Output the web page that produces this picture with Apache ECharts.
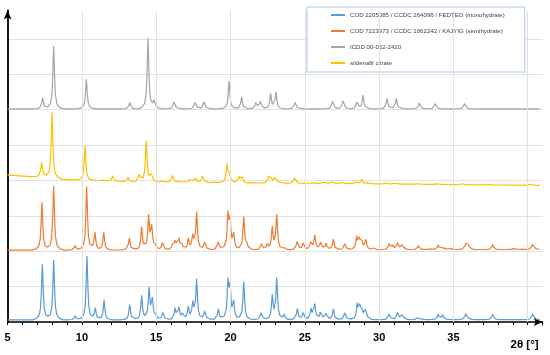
<!DOCTYPE html>
<html><head><meta charset="utf-8">
<script src="https://cdn.jsdelivr.net/npm/echarts@6/dist/echarts.min.js"></script>
<style>html,body{margin:0;padding:0;background:#fff}#c{width:550px;height:355px}</style>
</head><body><div id="c"></div>
<script>
// ---- data (2θ in degrees, intensity in stacked arbitrary units) ----
const seriesNames = [
  'COD 2205085 / CCDC 264096 / FEDTEO (monohydrate)',
  'COD 7223973 / CCDC 1062242 / KAJYIG (semihydrate)',
  'ICDD 00-052-2420',
  'sildenafil citrate'
];
const xLabelValues = [5, 10, 15, 20, 25, 30, 35];
const xGridValues = [10, 15, 20, 25, 30, 35, 40];

const blueBase = [[5, 0.06], [40.8, 0.07]];
const bluePeaks = [[7.34,1.63],[8.10,1.75],[9.54,0.18],[10.34,1.86],[10.90,0.39],[11.49,0.62],[13.22,0.49],[14.02,0.74],[14.52,0.94],[14.74,0.62],[14.94,0.20],[15.46,0.32],[16.27,0.38],[16.53,0.40],[16.78,0.25],[17.16,0.41],[17.46,0.51],[17.72,1.19],[18.28,0.36],[19.18,0.37],[19.83,1.09],[19.97,0.90],[20.21,0.53],[20.89,1.14],[22.07,0.31],[22.81,0.72],[23.11,1.22],[23.60,0.20],[24.50,0.38],[24.90,0.30],[25.42,0.36],[25.67,0.49],[26.07,0.31],[26.43,0.27],[26.92,0.36],[27.70,0.31],[28.53,0.48],[28.70,0.39],[28.83,0.36],[29.10,0.38],[30.69,0.26],[31.25,0.31],[31.56,0.22],[32.64,0.17],[33.98,0.22],[34.28,0.20],[35.85,0.28],[37.64,0.22],[40.34,0.26]];

const orangeBase = [[5, 2.03], [40.8, 2.05]];
const orangePeaks = [[7.31,3.38],[8.10,3.84],[9.54,2.16],[10.32,3.82],[10.88,2.52],[11.47,2.53],[13.19,2.37],[14.02,2.68],[14.49,2.97],[14.70,2.66],[14.92,2.15],[15.44,2.29],[16.11,2.18],[16.29,2.32],[16.53,2.34],[16.72,2.20],[17.16,2.34],[17.46,2.41],[17.72,3.09],[18.28,2.30],[19.18,2.32],[19.83,2.99],[19.97,2.82],[20.21,2.46],[20.89,2.96],[21.09,2.20],[22.10,2.25],[22.48,2.18],[22.81,2.65],[23.11,3.01],[23.60,2.13],[24.50,2.32],[24.90,2.27],[25.42,2.29],[25.67,2.44],[26.07,2.29],[26.43,2.22],[26.92,2.34],[27.70,2.26],[28.49,2.39],[28.67,2.32],[28.83,2.27],[29.10,2.32],[29.61,2.10],[30.69,2.24],[30.91,2.17],[31.25,2.27],[31.56,2.20],[32.64,2.16],[33.43,2.08],[33.98,2.17],[34.28,2.14],[34.77,2.10],[35.85,2.24],[36.00,2.19],[37.64,2.19],[39.14,2.10],[40.34,2.24]];

const greyBase = [[5, 6.02], [40.8, 6.02]];
const greyPeaks = [[7.36,6.34],[8.10,7.80],[10.30,6.86],[13.22,6.20],[14.45,8.02],[14.87,6.27],[16.22,6.27],[17.63,6.25],[18.22,6.27],[19.90,6.81],[20.75,6.35],[21.72,6.23],[22.03,6.27],[22.70,6.44],[23.06,6.49],[24.36,6.25],[26.88,6.29],[27.59,6.30],[28.53,6.25],[28.92,6.40],[30.53,6.31],[31.16,6.32],[32.71,6.19],[33.78,6.21],[35.76,6.21]];

const yellowBase = [[5,4.15],[7,4.10],[8.5,4.04],[10.5,3.99],[15,3.95],[20,3.93],[28,3.91],[33,3.89],[40.8,3.86]];
const yellowPeaks = [[7.29,4.50],[7.99,5.92],[10.21,4.97],[10.83,4.03],[11.40,4.05],[12.07,4.13],[13.10,4.09],[13.86,4.20],[14.33,5.11],[14.70,4.18],[15.44,4.02],[16.11,4.18],[16.60,3.97],[16.82,3.97],[17.27,4.04],[17.46,4.01],[17.66,4.05],[18.13,4.17],[18.91,3.97],[19.76,4.43],[19.92,4.25],[20.57,4.11],[20.77,4.09],[21.67,3.95],[22.59,4.15],[22.75,4.04],[23.00,4.11],[23.38,3.97],[24.32,4.11],[25.57,3.96],[26.29,3.97],[26.81,3.97],[27.48,3.95],[28.43,3.97],[28.83,4.03],[29.27,3.96],[30.47,3.95],[31.07,3.94],[32.64,3.92],[33.92,3.92],[35.63,3.93],[37.35,3.90],[40.18,3.92]];

// shape of one reflection: [offset in degrees, fraction of peak height]
const peakProfile = [[0,1],[0.03,0.8],[0.065,0.5],[0.12,0.22],[0.22,0.08],[0.4,0.025],[0.65,0]];

const colors = ['#5b9bd5', '#ed7d31', '#a5a5a5', '#ffc000'];

// ---- building line data from the peak tables ----
function lerpNodes(nodes, x) {
  if (x <= nodes[0][0]) return nodes[0][1];
  for (let i = 1; i < nodes.length; i++) {
    if (x <= nodes[i][0]) {
      const a = nodes[i-1], b = nodes[i];
      return a[1] + (b[1]-a[1]) * (x - a[0]) / (b[0] - a[0]);
    }
  }
  return nodes[nodes.length-1][1];
}
function build(baseNodes, peaks) {
  const x0 = baseNodes[0][0], x1 = baseNodes[baseNodes.length-1][0];
  const xs = new Set(baseNodes.map(n => n[0]));
  peaks.forEach(([p]) => peakProfile.forEach(([d]) => {
    [p - d, p + d].forEach(x => { if (x >= x0 && x <= x1) xs.add(+x.toFixed(4)); });
  }));
  const sorted = Array.from(xs).sort((a, b) => a - b);
  return sorted.map(x => {
    let y = lerpNodes(baseNodes, x);
    peaks.forEach(([p, apex]) => {
      const h = apex - lerpNodes(baseNodes, p);
      y += h * lerpNodes(peakProfile, Math.abs(x - p));
    });
    return [x, +y.toFixed(4)];
  });
}

const tables = [[blueBase, bluePeaks], [orangeBase, orangePeaks], [greyBase, greyPeaks], [yellowBase, yellowPeaks]];

const series = tables.map((t, i) => ({
  name: seriesNames[i],
  type: 'line',
  data: build(t[0], t[1]),
  showSymbol: false,
  symbol: 'none',
  smooth: false,
  lineStyle: { color: colors[i], width: 1.2 },
  itemStyle: { color: colors[i] },
  z: 3,
  animation: false
}));
series.push({
  name: 'grid',
  type: 'line',
  data: [],
  z: 1,
  silent: true,
  animation: false,
  markLine: {
    silent: true,
    symbol: ['none', 'none'],
    label: { show: false },
    animation: false,
    lineStyle: { color: '#e2e2e2', width: 1, type: 'solid' },
    emphasis: { disabled: true },
    data: xGridValues.map(v => ({ xAxis: v }))
  }
});

const chart = echarts.init(document.getElementById('c'), null, { renderer: 'canvas' });
chart.setOption({
  animation: false,
  backgroundColor: '#ffffff',
  grid: { left: 7.6, right: 7.4, top: 10.5, bottom: 33 },
  legend: {
    data: seriesNames,
    orient: 'vertical',
    left: 307,
    top: 7,
    backgroundColor: '#ffffff',
    borderColor: '#a9c8e8',
    borderWidth: 1,
    borderRadius: 0,
    padding: [4, 20, 5, 24],
    icon: 'rect',
    itemWidth: 14,
    itemHeight: 2,
    itemGap: 8,
    itemStyle: { borderWidth: 0 },
    textStyle: { fontSize: 6.1, color: '#404040', fontFamily: 'Liberation Sans', lineHeight: 8, height: 8 }
  },
  xAxis: {
    type: 'value',
    min: 5,
    max: 41,
    interval: 1,
    name: '2θ [°]',
    nameLocation: 'end',
    nameGap: -4,
    nameTextStyle: { fontSize: 11.5, fontWeight: 'bold', color: '#000', fontFamily: 'Liberation Sans', align: 'right', verticalAlign: 'top', padding: [17, 0, 0, 0] },
    axisLine: { show: true, symbol: ['none', 'arrow'], symbolSize: [6, 9], lineStyle: { color: '#000', width: 1.5 } },
    axisTick: { show: true, length: 3, lineStyle: { color: '#000', width: 1 } },
    splitLine: { show: false },
    axisLabel: {
      show: true,
      margin: 10,
      fontSize: 11,
      fontWeight: 'bold',
      color: '#000',
      fontFamily: 'Liberation Sans',
      formatter: v => (xLabelValues.indexOf(v) >= 0 ? String(v) : '')
    }
  },
  yAxis: {
    type: 'value',
    min: 0,
    max: 8.8,
    interval: 1,
    axisLine: { show: true, symbol: ['none', 'arrow'], symbolSize: [6, 9], lineStyle: { color: '#000', width: 1.8 } },
    axisTick: { show: false },
    axisLabel: { show: false },
    splitLine: { show: true, showMaxLine: false, lineStyle: { color: '#e2e2e2', width: 1 } }
  },
  series: series
});
</script>
</body></html>
